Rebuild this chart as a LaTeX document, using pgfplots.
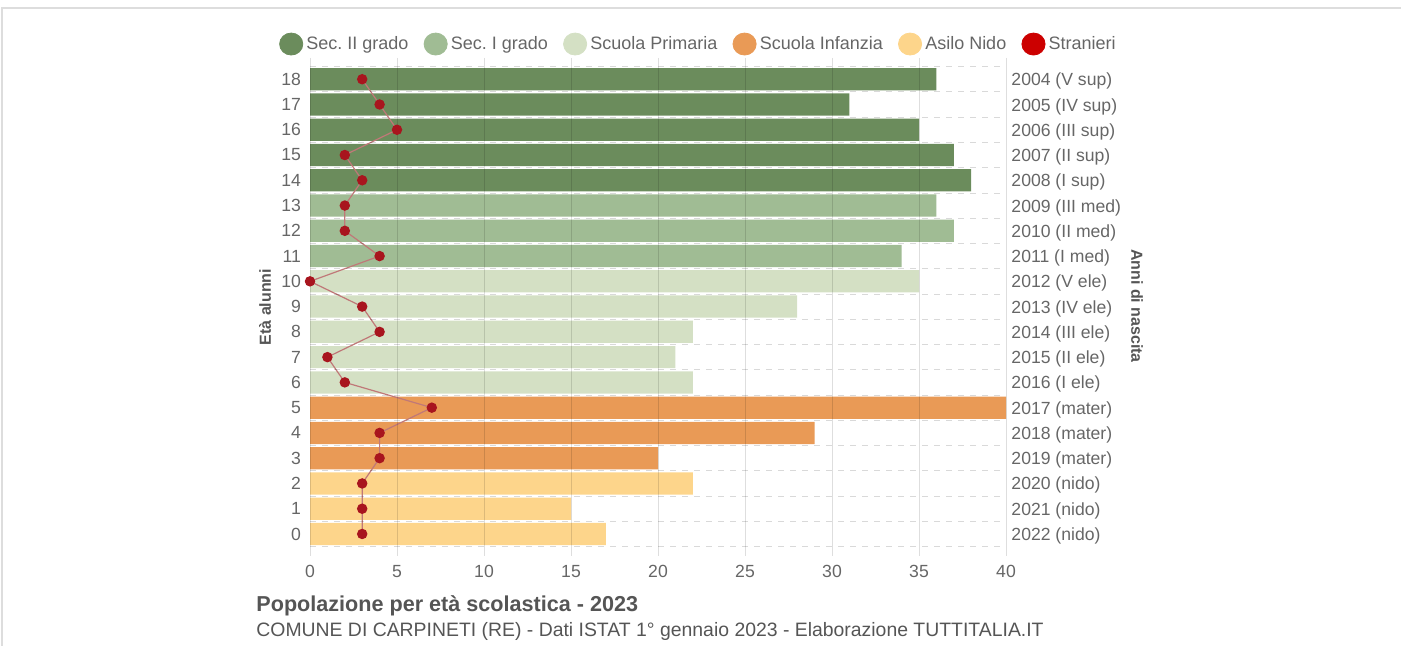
\documentclass[border=0pt]{standalone}
\usepackage{fontspec}
\setmainfont{Liberation Sans}
\usepackage{pgfplots}
\pgfplotsset{compat=1.18}
\frenchspacing
\definecolor{secII}{HTML}{6B8C5C}
\definecolor{secI}{HTML}{A0BC94}
\definecolor{prim}{HTML}{D4E0C4}
\definecolor{inf}{HTML}{E99A56}
\definecolor{nido}{HTML}{FDD58B}
\definecolor{str}{HTML}{CC0000}
\definecolor{strdot}{HTML}{A8151E}
\definecolor{strline}{HTML}{C07878}
\definecolor{txt}{HTML}{666666}
\definecolor{ttl}{HTML}{555555}
\definecolor{frame}{HTML}{DDDDDD}
\begin{document}
\begin{tikzpicture}
\path[use as bounding box] (0pt,0pt) rectangle (700.5pt,-323pt);
\draw[frame, line width=1pt] (1pt,-323pt) -- (1pt,-4pt) -- (700.5pt,-4pt);
\begin{axis}[
  at={(155pt,-273.3pt)}, anchor=south west,
  width=348pt, height=240pt, scale only axis,
  xmin=0, xmax=40, ymin=-0.5, ymax=18.5,
  xtick={0,5,...,40}, ytick={0,...,18},
  minor ytick={-0.5,0.5,...,18.5},
  xmajorgrids, yminorgrids, ymajorgrids=false,
  major grid style={black, opacity=0.13},
  minor grid style={dashed, black, opacity=0.15},
  axis on top,
  axis line style={draw=none},
  tick align=outside, major tick length=4.5pt,
  xtick style={black, opacity=0.13},
  ytick style={draw=none},
  /pgf/number format/assume math mode=true,
  ticklabel style={font=\fontsize{8.8}{10}\selectfont, text=txt},
  yticklabel style={xshift=3.5pt},
  xticklabel style={yshift=-1.5pt},
  clip=false,
  legend columns=6,
  legend style={at={(rel axis cs:0.559,1.047)}, anchor=center, draw=none, fill=none,
    font=\fontsize{9}{10}\selectfont, text=txt,
    /tikz/every even column/.append style={column sep=6pt},
    nodes={inner sep=1.6pt}},
]
\addlegendimage{legend image code/.code={\fill[secII] (5.8pt,0pt) ellipse (5.8pt and 5.5pt);}}
\addlegendentry{Sec. II grado}
\addlegendimage{legend image code/.code={\fill[secI] (5.8pt,0pt) ellipse (5.8pt and 5.5pt);}}
\addlegendentry{Sec. I grado}
\addlegendimage{legend image code/.code={\fill[prim] (5.8pt,0pt) ellipse (5.8pt and 5.5pt);}}
\addlegendentry{Scuola Primaria}
\addlegendimage{legend image code/.code={\fill[inf] (5.8pt,0pt) ellipse (5.8pt and 5.5pt);}}
\addlegendentry{Scuola Infanzia}
\addlegendimage{legend image code/.code={\fill[nido] (5.8pt,0pt) ellipse (5.8pt and 5.5pt);}}
\addlegendentry{Asilo Nido}
\addlegendimage{legend image code/.code={\fill[str] (5.8pt,0pt) ellipse (5.8pt and 5.5pt);}}
\addlegendentry{Stranieri}

\addplot[xbar, bar width=0.88, bar shift=0pt, fill=secII, draw=none, forget plot]
  coordinates {(36,18) (31,17) (35,16) (37,15) (38,14)};
\addplot[xbar, bar width=0.88, bar shift=0pt, fill=secI, draw=none, forget plot]
  coordinates {(36,13) (37,12) (34,11)};
\addplot[xbar, bar width=0.88, bar shift=0pt, fill=prim, draw=none, forget plot]
  coordinates {(35,10) (28,9) (22,8) (21,7) (22,6)};
\addplot[xbar, bar width=0.88, bar shift=0pt, fill=inf, draw=none, forget plot]
  coordinates {(40,5) (29,4) (20,3)};
\addplot[xbar, bar width=0.88, bar shift=0pt, fill=nido, draw=none, forget plot]
  coordinates {(22,2) (15,1) (17,0)};
\addplot[strline, line width=0.6pt, mark=*, mark size=2.3pt,
  mark options={fill=strdot, draw=strdot}, forget plot]
  coordinates {(3,18) (4,17) (5,16) (2,15) (3,14) (2,13) (2,12) (4,11) (0,10) (3,9)
    (4,8) (1,7) (2,6) (7,5) (4,4) (4,3) (3,2) (3,1) (3,0)};
\end{axis}
\begin{axis}[
  at={(155pt,-273.3pt)}, anchor=south west,
  width=348pt, height=240pt, scale only axis,
  xmin=0, xmax=40, ymin=-0.5, ymax=18.5,
  xtick=\empty, ytick={0,...,18},
  yticklabels={2022 (nido),2021 (nido),2020 (nido),2019 (mater),2018 (mater),2017 (mater),2016 (I ele),2015 (II ele),2014 (III ele),2013 (IV ele),2012 (V ele),2011 (I med),2010 (II med),2009 (III med),2008 (I sup),2007 (II sup),2006 (III sup),2005 (IV sup),2004 (V sup)},
  yticklabel pos=right,
  axis line style={draw=none},
  ytick style={draw=none},
  yticklabel style={font=\fontsize{8.8}{10}\selectfont, text=txt, xshift=-0.8pt, yshift=-1pt},
]
\addplot[draw=none] coordinates {(0,0)};
\end{axis}
\node[rotate=90, font=\bfseries\fontsize{8}{9}\selectfont, text=ttl] at (132.5pt,-153.5pt) {Età alunni};
\node[rotate=-90, font=\bfseries\fontsize{8}{9}\selectfont, text=ttl] at (568.5pt,-153pt) {Anni di nascita};
\node[anchor=base west, inner sep=0pt, font=\bfseries\fontsize{10.8}{12}\selectfont, text=ttl] at (128pt,-305.8pt) {Popolazione per età scolastica - 2023};
\node[anchor=base west, inner sep=0pt, font=\fontsize{9.7}{11}\selectfont, text=ttl] at (128pt,-318pt) {COMUNE DI CARPINETI (RE) - Dati ISTAT 1° gennaio 2023 - Elaborazione TUTTITALIA.IT};
\end{tikzpicture}
\end{document}
